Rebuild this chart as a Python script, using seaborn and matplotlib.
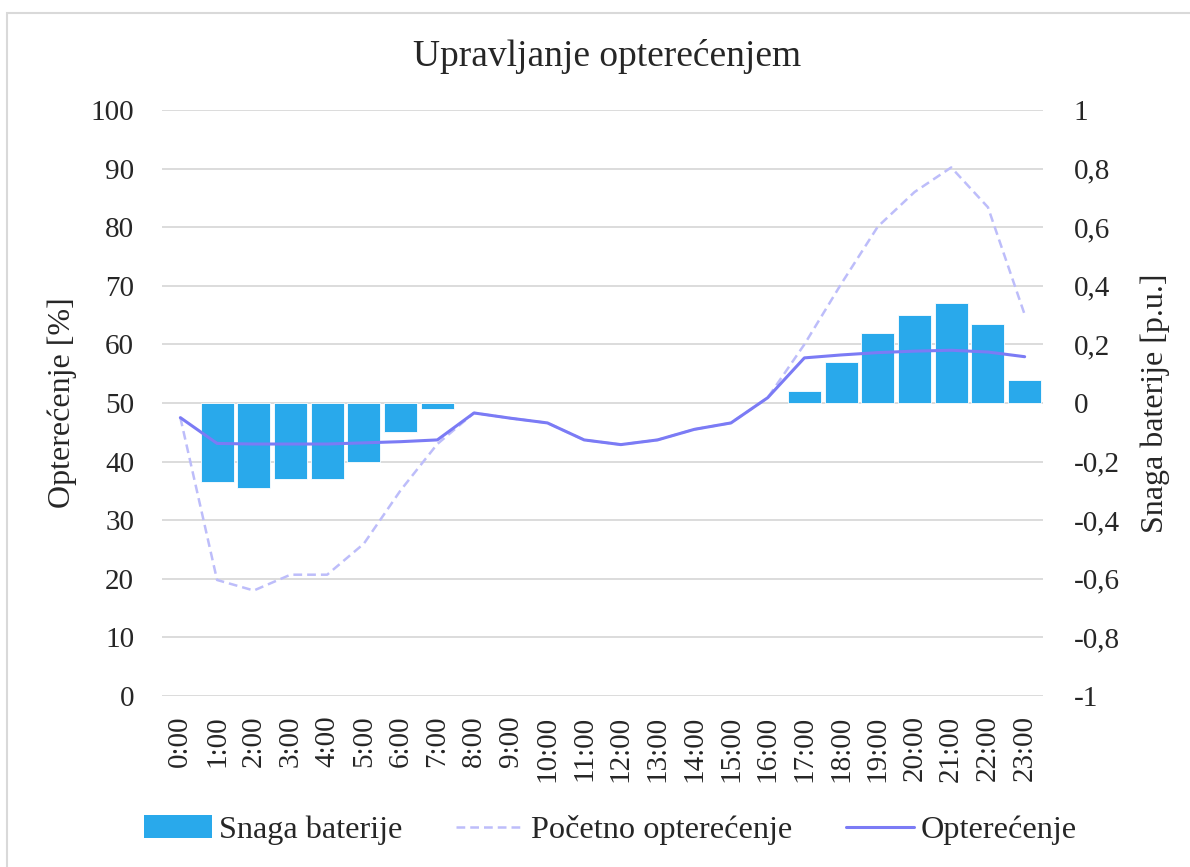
"""Load management chart: battery power bars + initial / managed load lines."""

import matplotlib.pyplot as plt
import numpy as np
import pandas as pd
import seaborn as sns
from matplotlib.lines import Line2D
from matplotlib.patches import Patch, Rectangle
from matplotlib.ticker import FuncFormatter, MultipleLocator

sns.set_theme(style="white")
plt.rcParams["font.family"] = ["Liberation Serif", "DejaVu Serif"]

HOURS = [f"{h}:00" for h in range(24)]
BATTERY_PU = [0.0, -0.27, -0.29, -0.26, -0.26, -0.20, -0.10, -0.02,
              0.0, 0.0, 0.0, 0.0, 0.0, 0.0, 0.0, 0.0, 0.0,
              0.04, 0.14, 0.24, 0.30, 0.34, 0.27, 0.08]
INITIAL_LOAD = [47.5, 19.8, 18.0, 20.7, 20.7, 26.0, 35.1, 43.0,
                48.3, 47.4, 46.6, 43.7, 42.9, 43.7, 45.5, 46.6, 50.9,
                60.0, 70.3, 80.1, 86.0, 90.2, 83.4, 65.1]
MANAGED_LOAD = [47.5, 43.1, 43.0, 43.0, 43.0, 43.2, 43.4, 43.7,
                48.3, 47.4, 46.6, 43.7, 42.9, 43.7, 45.5, 46.6, 50.9,
                57.7, 58.2, 58.6, 58.85, 59.0, 58.7, 57.9]

BAR_COLOR = "#29A9EB"
MANAGED_COLOR = "#7B7BF5"
INITIAL_COLOR = "#BDBDFA"
GRID_COLOR = "#D9D9D9"

df = pd.DataFrame({
    "pos": np.arange(len(HOURS)),
    "hour": HOURS,
    "battery": BATTERY_PU,
    "initial": INITIAL_LOAD,
    "managed": MANAGED_LOAD,
})

fig = plt.figure(figsize=(11.9, 8.67), dpi=100)
ax = fig.add_axes([162 / 1190, 1 - 696 / 867, 881 / 1190, 586 / 867])
ax2 = ax.twinx()
ax.set_zorder(2)
ax2.set_zorder(1)
ax.patch.set_visible(False)

# bars on the right axis (drawn underneath the lines)
sns.barplot(data=df, x="pos", y="battery", ax=ax2, color=BAR_COLOR,
            saturation=1, width=0.9, edgecolor="white", linewidth=0.6)
for bar in ax2.patches:
    if bar.get_height() == 0:
        bar.set_visible(False)
ax2.set_ylim(-1, 1)
ax2.yaxis.set_major_locator(MultipleLocator(0.2))
ax2.grid(axis="y", color=GRID_COLOR, lw=1.3)
ax2.set_axisbelow(True)


def _comma(v, _pos):
    if abs(v - round(v)) < 1e-9:
        return f"{int(round(v))}"
    return f"{v:.1f}".replace(".", ",")


ax2.yaxis.set_major_formatter(FuncFormatter(_comma))

sns.lineplot(data=df, x="pos", y="initial", ax=ax, color=INITIAL_COLOR,
             lw=1.8, dashes=False, linestyle=(0, (3.5, 2)))
sns.lineplot(data=df, x="pos", y="managed", ax=ax, color=MANAGED_COLOR, lw=2.2)

ax.set_ylim(0, 100)
ax.yaxis.set_major_locator(MultipleLocator(10))
ax.set_xlim(-0.5, len(HOURS) - 0.5)
ax.set_xticks(df["pos"])
ax.set_xticklabels(HOURS, rotation=90)
ax.grid(False)

for a in (ax, ax2):
    for s in a.spines.values():
        s.set_visible(False)
    a.set_xlabel("")

ax.tick_params(axis="both", length=0, labelsize=21, pad=20)
ax.tick_params(axis="x", pad=14)
ax2.tick_params(axis="y", length=0, labelsize=21, pad=22)

ax.set_ylabel("Opterećenje [%]", fontsize=23)
ax.yaxis.set_label_coords(-0.097, 0.5)
ax2.set_ylabel("Snaga baterije [p.u.]", fontsize=23, rotation=90)
ax2.yaxis.set_label_coords(1.111, 0.5)

fig.text(0.51, 1 - 57 / 867, "Upravljanje opterećenjem", fontsize=27,
         ha="center", va="center")

handles = [
    Patch(facecolor=BAR_COLOR, edgecolor="none"),
    Line2D([], [], color=INITIAL_COLOR, lw=1.8, linestyle=(0, (3.5, 2))),
    Line2D([], [], color=MANAGED_COLOR, lw=2.2),
]
fig.legend(handles, ["Snaga baterije", "Početno opterećenje", "Opterećenje"],
           loc="center", bbox_to_anchor=(0.513, 1 - 830 / 867), ncol=3,
           frameon=False, fontsize=23.2, handlelength=2.12, handletextpad=0.22,
           columnspacing=1.65)

fig.add_artist(Rectangle((7 / 1190, -0.05), 1.1, 1 - 13 / 867 + 0.05,
                         transform=fig.transFigure, fill=False,
                         edgecolor=GRID_COLOR, lw=1.5))

fig.savefig("out.png", dpi=100)
